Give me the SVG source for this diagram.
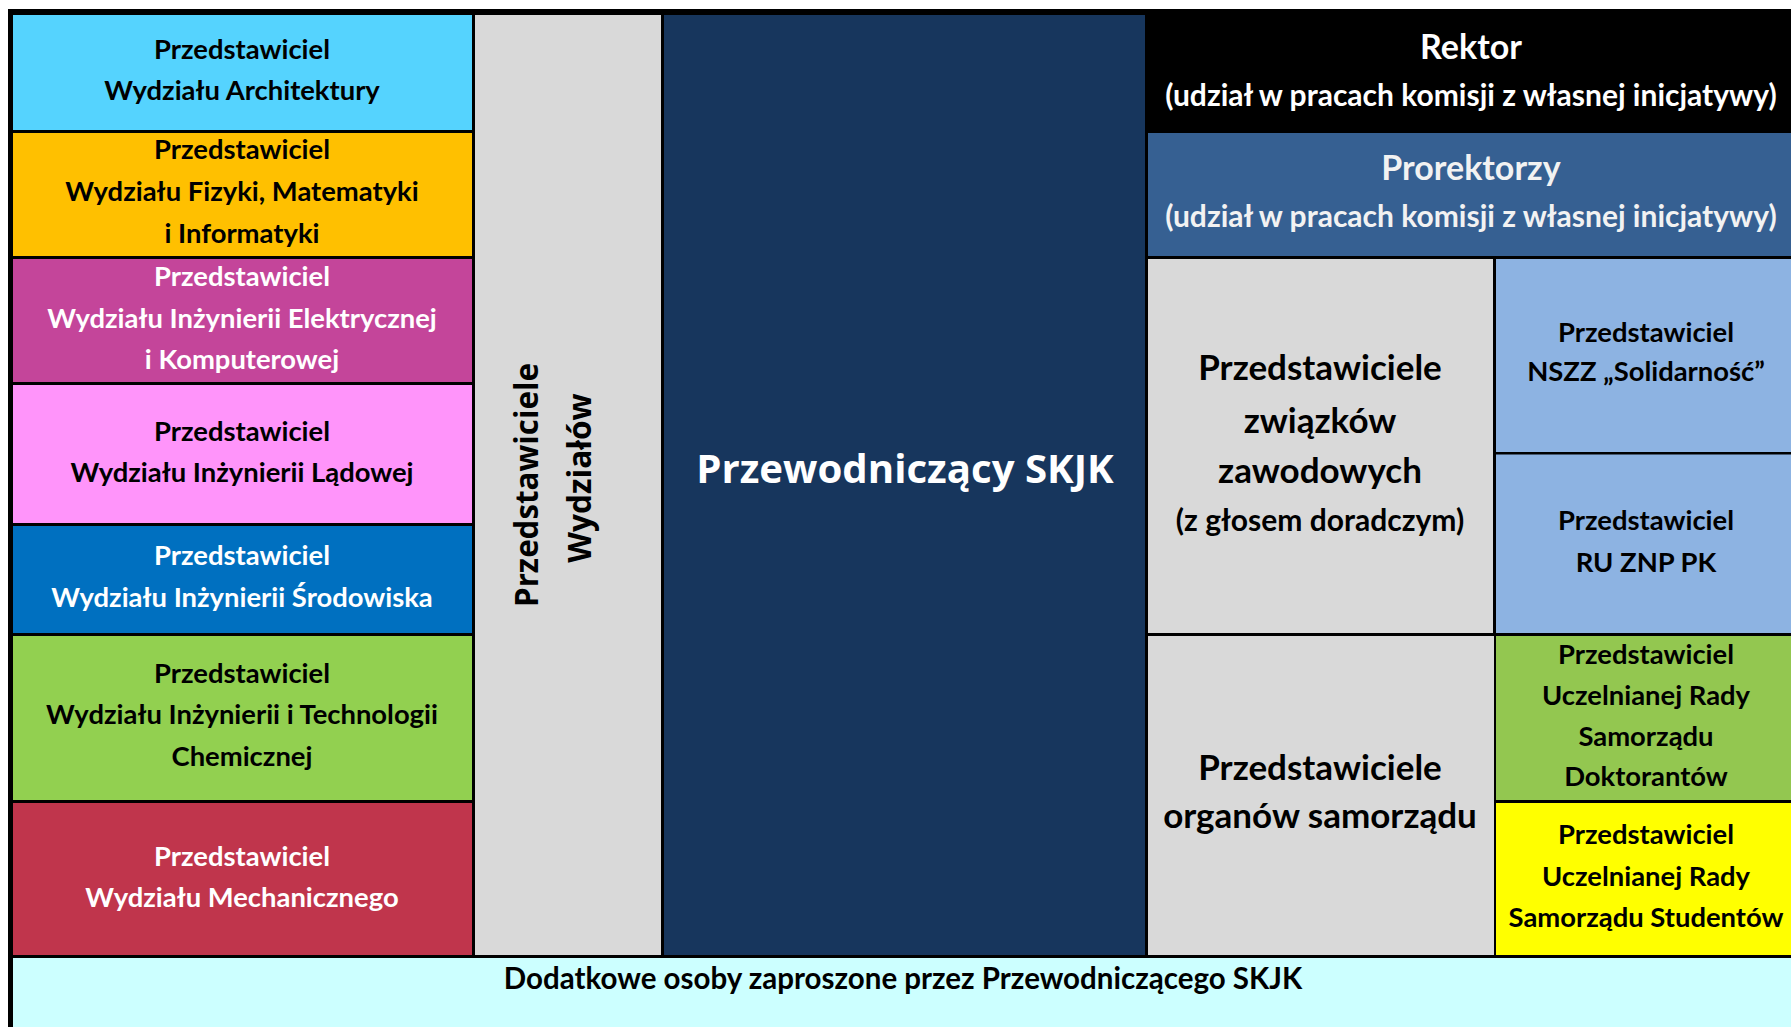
<svg xmlns="http://www.w3.org/2000/svg" width="1791" height="1027" viewBox="0 0 1791 1027">
<style>
.t{font-family:Lato,"Liberation Sans",sans-serif;font-weight:700;font-size:27.4px;text-anchor:middle}
.k{fill:#000}
.w{fill:#fff}
.g{fill:#F2F2F2}
.big{font-family:"Open Sans","Liberation Sans",sans-serif;font-weight:700;text-anchor:middle}
.h1{font-size:34px}
.h2{font-size:35px}
.s{font-size:30px}
</style>
<rect x="0" y="0" width="1791" height="1027" fill="#fff"/>
<rect x="8" y="9" width="1783" height="1018" fill="#000"/>

<g id="wydz-architektury">
<rect x="13" y="15" width="459" height="115" fill="#55D3FE"/>
<text class="t k" x="242" y="59">Przedstawiciel</text>
<text class="t k" x="242" y="99.5">Wydziału Architektury</text>
</g>
<g id="wydz-fizyki">
<rect x="13" y="133" width="459" height="123" fill="#FFC000"/>
<text class="t k" x="242" y="159">Przedstawiciel</text>
<text class="t k" x="242" y="200.5">Wydziału Fizyki, Matematyki</text>
<text class="t k" x="242" y="242.5">i Informatyki</text>
</g>
<g id="wydz-elektrycznej">
<rect x="13" y="259" width="459" height="123" fill="#C4459A"/>
<text class="t w" x="242" y="285.5">Przedstawiciel</text>
<text class="t w" x="242" y="327.5">Wydziału Inżynierii Elektrycznej</text>
<text class="t w" x="242" y="369">i Komputerowej</text>
</g>
<g id="wydz-ladowej">
<rect x="13" y="385" width="459" height="138" fill="#FF94FA"/>
<text class="t k" x="242" y="441">Przedstawiciel</text>
<text class="t k" x="242" y="481.5">Wydziału Inżynierii Lądowej</text>
</g>
<g id="wydz-srodowiska">
<rect x="13" y="526" width="459" height="107" fill="#0070C0"/>
<text class="t w" x="242" y="565">Przedstawiciel</text>
<text class="t w" x="242" y="606.5">Wydziału Inżynierii Środowiska</text>
</g>
<g id="wydz-chemicznej">
<rect x="13" y="636" width="459" height="164" fill="#92D050"/>
<text class="t k" x="242" y="683">Przedstawiciel</text>
<text class="t k" x="242" y="724">Wydziału Inżynierii i Technologii</text>
<text class="t k" x="242" y="765.5">Chemicznej</text>
</g>
<g id="wydz-mechanicznego">
<rect x="13" y="803" width="459" height="152" fill="#C0354C"/>
<text class="t w" x="242" y="866">Przedstawiciel</text>
<text class="t w" x="242" y="906.5">Wydziału Mechanicznego</text>
</g>

<g id="przedstawiciele-wydzialow">
<rect x="475" y="15" width="186" height="940" fill="#D9D9D9"/>
<g transform="rotate(-90)">
<text class="big k" style="font-size:31.3px" x="-485" y="538">Przedstawiciele</text>
<text class="big k" style="font-size:31.7px" x="-478" y="591">Wydziałów</text>
</g>
</g>

<g id="przewodniczacy">
<rect x="664" y="15" width="481" height="940" fill="#17365D"/>
<text class="big w" style="font-size:40.2px" x="905" y="483">Przewodniczący SKJK</text>
</g>

<g id="rektor">
<rect x="1148" y="15" width="643" height="118" fill="#000"/>
<text class="t w h1" x="1471" y="59">Rektor</text>
<text class="t w s" x="1471" y="106">(udział w pracach komisji z własnej inicjatywy)</text>
</g>
<g id="prorektorzy">
<rect x="1148" y="133" width="643" height="123" fill="#366092"/>
<text class="t g h1" x="1471" y="180">Prorektorzy</text>
<text class="t g s" x="1471" y="227">(udział w pracach komisji z własnej inicjatywy)</text>
</g>

<g id="zwiazki-zawodowe">
<rect x="1148" y="259" width="345" height="374" fill="#D9D9D9"/>
<text class="t k h2" x="1320" y="380">Przedstawiciele</text>
<text class="t k h2" x="1320" y="433">związków</text>
<text class="t k h2" x="1320" y="483">zawodowych</text>
<text class="t k s" x="1320" y="531">(z głosem doradczym)</text>
</g>
<g id="nszz">
<rect x="1496" y="259" width="295" height="193" fill="#8DB3E2"/>
<text class="t k" x="1646" y="341.5">Przedstawiciel</text>
<text class="t k" x="1646" y="380.5">NSZZ „Solidarność”</text>
</g>
<g id="ru-znp">
<rect x="1496" y="454.5" width="295" height="178.5" fill="#8DB3E2"/>
<text class="t k" x="1646" y="530">Przedstawiciel</text>
<text class="t k" x="1646" y="571.5">RU ZNP PK</text>
</g>

<g id="organy-samorzadu">
<rect x="1148" y="636" width="346" height="319" fill="#D9D9D9"/>
<text class="t k h2" x="1320" y="780">Przedstawiciele</text>
<text class="t k h2" x="1320" y="828">organów samorządu</text>
</g>
<g id="doktoranci">
<rect x="1496" y="636" width="295" height="164" fill="#93C750"/>
<text class="t k" x="1646" y="664">Przedstawiciel</text>
<text class="t k" x="1646" y="705">Uczelnianej Rady</text>
<text class="t k" x="1646" y="745.5">Samorządu</text>
<text class="t k" x="1646" y="785.5">Doktorantów</text>
</g>
<g id="studenci">
<rect x="1496" y="803" width="295" height="152" fill="#FFFF00"/>
<text class="t k" x="1646" y="843.5">Przedstawiciel</text>
<text class="t k" x="1646" y="886">Uczelnianej Rady</text>
<text class="t k" x="1646" y="926.5">Samorządu Studentów</text>
</g>

<g id="dodatkowe-osoby">
<rect x="13" y="958" width="1778" height="69" fill="#CCFFFF"/>
<text class="t k" style="font-size:29.5px" x="903" y="989">Dodatkowe osoby zaproszone przez Przewodniczącego SKJK</text>
</g>

<g id="connectors"></g>
</svg>
